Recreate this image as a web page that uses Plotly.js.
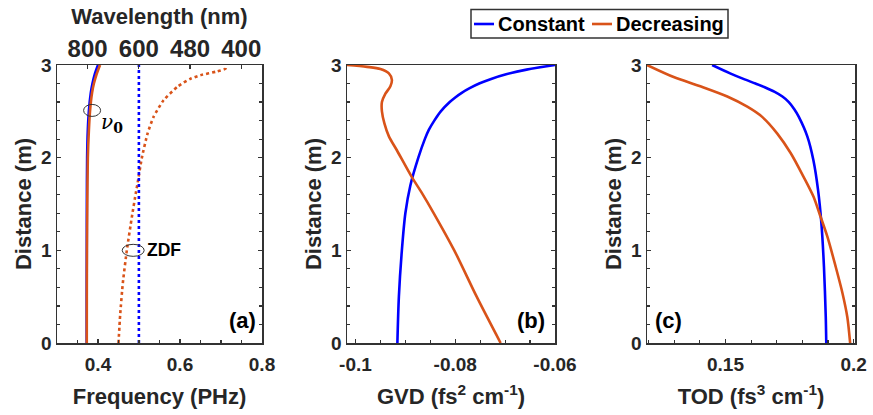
<!DOCTYPE html>
<html>
<head>
<meta charset="utf-8">
<script src="https://cdn.plot.ly/plotly-3.0.1.min.js"></script>
<style>
  html, body { margin: 0; padding: 0; background: #ffffff; }
  #chart { width: 873px; height: 415px; }
</style>
</head>
<body>
<div id="chart"></div>
<script>
// ---- Panel (a): centre frequency and zero-dispersion frequency vs distance ----
const distFreq      = [0, 0.5, 1.0, 1.5, 2.0, 2.3, 2.5, 2.7, 2.8, 2.9, 3.0];
const freqConstant  = [0.3724, 0.3724, 0.3726, 0.3728, 0.3735, 0.3752, 0.3777, 0.3825, 0.3865, 0.392, 0.400];
const freqDecrease  = [0.3726, 0.3727, 0.3730, 0.3738, 0.3752, 0.3778, 0.3805, 0.3855, 0.390, 0.3965, 0.405];
const distZdfDec    = [0, 0.3, 0.65, 1.0, 1.36, 1.62, 1.72, 2.0, 2.26, 2.44, 2.62, 2.77, 2.85, 2.89, 2.93, 2.96, 3.0];
const zdfDecrease   = [0.450, 0.454, 0.4606, 0.4703, 0.4826, 0.4923, 0.4964, 0.507, 0.5208, 0.5355, 0.560, 0.595, 0.625, 0.650, 0.690, 0.711, 0.713];
const distZdfConst  = [0, 3];
const zdfConstant   = [0.4997, 0.4997];
const wavelengthTicks = [800, 600, 480, 400];   // nm, shown on the top axis

// ---- Panel (b): group-velocity dispersion ----
const distGvdConst = [0, 0.5, 1.0, 1.4, 1.7, 2.0, 2.2, 2.3, 2.4, 2.5, 2.6, 2.65, 2.7, 2.75, 2.8, 2.85, 2.9, 2.95, 3.0];
const gvdConstant  = [-0.0916, -0.0913, -0.0907, -0.0900, -0.0890, -0.0874, -0.0861, -0.0853, -0.0842, -0.0829, -0.0811, -0.0800, -0.0787, -0.0771, -0.0752, -0.0728, -0.0698, -0.0657, -0.0600];
const distGvdDec   = [0, 0.5, 1.0, 1.4, 1.62, 1.79, 2.08, 2.23, 2.37, 2.5, 2.6, 2.69, 2.77, 2.84, 2.91, 2.957, 2.98, 3.0];
const gvdDecrease  = [-0.0709, -0.0757, -0.0802, -0.0843, -0.0867, -0.0887, -0.0917, -0.0933, -0.0942, -0.0947, -0.0947, -0.0940, -0.0930, -0.0927, -0.0933, -0.0950, -0.0977, -0.1017];

// ---- Panel (c): third-order dispersion ----
const distTodConst = [0, 0.28, 0.82, 1.29, 1.65, 1.97, 2.23, 2.44, 2.52, 2.6, 2.66, 2.71, 2.76, 2.8, 2.85, 2.91, 3.0];
const todConstant  = [0.1893, 0.1891, 0.1884, 0.1874, 0.1861, 0.1843, 0.1819, 0.1786, 0.1769, 0.1747, 0.1722, 0.1692, 0.1653, 0.1617, 0.1570, 0.1518, 0.1448];
const distTodDec   = [0, 0.28, 0.54, 0.82, 1.15, 1.40, 1.58, 1.79, 2.05, 2.26, 2.44, 2.55, 2.66, 2.77, 2.87, 3.0];
const todDecrease  = [0.1986, 0.1975, 0.1956, 0.1930, 0.1897, 0.1866, 0.1843, 0.1805, 0.1754, 0.1702, 0.1643, 0.1585, 0.1507, 0.1402, 0.1298, 0.1194];

const distanceTicks = [0, 1, 2, 3];
const freqTicks = [0.4, 0.6, 0.8];
const freqTickText = ['0.4', '0.6', '0.8'];
const gvdTicks = [-0.1, -0.08, -0.06];
const gvdTickText = ['-0.1', '-0.08', '-0.06'];
const todTicks = [0.15, 0.2];
const todTickText = ['0.15', '0.2'];
const seriesNames = ['Constant', 'Decreasing'];

const BLUE = '#0000ff';
const ORANGE = '#d95319';
const AXIS = '#333333';
const TEXT = '#262626';
const FONT = 'Liberation Sans, Arial, sans-serif';
const C_NM_PHZ = 299.792458;   // speed of light in nm·PHz

const W = 873, H = 415;
const px = v => v / W;
const py = v => 1 - v / H;
const yDomain = [py(343), py(65)];

function line(x, y, xa, ya, color, extra) {
  return Object.assign({
    type: 'scatter', mode: 'lines', x: x, y: y, xaxis: xa, yaxis: ya,
    line: { color: color, width: 2.6, shape: 'spline', smoothing: 0.8 },
    showlegend: false, hoverinfo: 'skip'
  }, extra || {});
}

const traces = [
  line(freqConstant, distFreq, 'x', 'y', BLUE, { name: seriesNames[0] }),
  line(freqDecrease, distFreq, 'x', 'y', ORANGE, { name: seriesNames[1] }),
  line(zdfDecrease, distZdfDec, 'x', 'y', ORANGE, { line: { color: ORANGE, width: 2.6, dash: 'dot', shape: 'spline', smoothing: 0.5 } }),
  line(zdfConstant, distZdfConst, 'x', 'y', BLUE, { line: { color: BLUE, width: 2.6, dash: 'dot' } }),
  // carries the wavelength axis on top of panel (a)
  { type: 'scatter', mode: 'lines', x: [0.3, 0.8], y: [-1, -1], xaxis: 'x4', yaxis: 'y',
    line: { color: 'rgba(0,0,0,0)', width: 0 }, showlegend: false, hoverinfo: 'skip' },
  line(gvdConstant, distGvdConst, 'x2', 'y2', BLUE, { name: seriesNames[0] }),
  line(gvdDecrease, distGvdDec, 'x2', 'y2', ORANGE, { name: seriesNames[1] }),
  line(todConstant, distTodConst, 'x3', 'y3', BLUE, { name: seriesNames[0] }),
  line(todDecrease, distTodDec, 'x3', 'y3', ORANGE, { name: seriesNames[1] })
];

const tickFont = () => ({ family: FONT, size: 19, color: TEXT, weight: 'bold' });
const titleFont = () => ({ family: FONT, size: 22, color: TEXT, weight: 'bold' });

function xAxis(domain, range, tickvals, ticktext, minorDtick, minorTick0, title, anchor) {
  return {
    domain: domain, range: range, anchor: anchor,
    tickmode: 'array', tickvals: tickvals, ticktext: ticktext,
    ticks: 'inside', ticklen: 4, tickwidth: 1.2, tickcolor: AXIS,
    minor: { ticks: 'inside', dtick: minorDtick, tick0: minorTick0, ticklen: 3, tickwidth: 1.2, tickcolor: AXIS },
    showline: true, linecolor: AXIS, linewidth: 1.5, mirror: true,
    showgrid: false, zeroline: false, automargin: false,
    tickfont: tickFont(), ticklabelstandoff: 4,
    title: { text: title, font: titleFont(), standoff: 14 }
  };
}
function yAxis(domain, anchor) {
  return {
    domain: domain, range: [0, 3], anchor: anchor,
    tickmode: 'array', tickvals: distanceTicks, ticktext: distanceTicks.map(String),
    ticks: 'inside', ticklen: 4, tickwidth: 1.2, tickcolor: AXIS,
    minor: { ticks: 'inside', dtick: 0.2, tick0: 0, ticklen: 3, tickwidth: 1.2, tickcolor: AXIS },
    showline: true, linecolor: AXIS, linewidth: 1.5, mirror: 'ticks',
    showgrid: false, zeroline: false, automargin: false,
    tickfont: tickFont(),
    title: { text: 'Distance (m)', font: titleFont(), standoff: 3 }
  };
}

// legend box drawn in pixel positions of the page
const legendShapes = [
  { type: 'rect', xref: 'paper', yref: 'paper', x0: px(471), x1: px(728), y0: py(38), y1: py(9.5),
    line: { color: AXIS, width: 1.5 }, fillcolor: '#ffffff' },
  { type: 'line', xref: 'paper', yref: 'paper', x0: px(474), x1: px(494), y0: py(24), y1: py(24),
    line: { color: BLUE, width: 2.6 } },
  { type: 'line', xref: 'paper', yref: 'paper', x0: px(592), x1: px(612), y0: py(24), y1: py(24),
    line: { color: ORANGE, width: 2.6 } }
];
const legendLabels = [
  { xref: 'paper', yref: 'paper', x: px(496), y: py(24), xanchor: 'left', yanchor: 'middle', showarrow: false,
    text: seriesNames[0], font: { family: FONT, size: 20, color: '#000000', weight: 'bold' } },
  { xref: 'paper', yref: 'paper', x: px(614), y: py(24), xanchor: 'left', yanchor: 'middle', showarrow: false,
    text: seriesNames[1], font: { family: FONT, size: 20, color: '#000000', weight: 'bold' } }
];

const layout = {
  width: W, height: H,
  margin: { l: 0, r: 0, t: 0, b: 0 },
  paper_bgcolor: '#ffffff', plot_bgcolor: '#ffffff',
  font: { family: FONT, color: TEXT },
  showlegend: false,
  xaxis: xAxis([px(57), px(262)], [0.3, 0.8], freqTicks, freqTickText, 0.05, 0.3, 'Frequency (PHz)', 'y'),
  xaxis2: xAxis([px(347), px(555)], [-0.1017, -0.06], gvdTicks, gvdTickText, 0.005, -0.1, 'GVD (fs<sup>2</sup> cm<sup>-1</sup>)', 'y2'),
  xaxis3: xAxis([px(647), px(855)], [0.1194, 0.2005], todTicks, todTickText, 0.01, 0.12, 'TOD (fs<sup>3</sup> cm<sup>-1</sup>)', 'y3'),
  xaxis4: {
    overlaying: 'x', side: 'top', anchor: 'y', range: [0.3, 0.8],
    tickmode: 'array',
    tickvals: wavelengthTicks.map(l => C_NM_PHZ / l),
    ticktext: wavelengthTicks.map(String),
    tickangle: 0,
    ticks: 'inside', ticklen: 4, tickwidth: 1.2, tickcolor: AXIS,
    showline: false, showgrid: false, zeroline: false, automargin: false,
    tickfont: { family: FONT, size: 24, color: TEXT, weight: 'bold' }, ticklabelstandoff: 2,
    title: { text: 'Wavelength (nm)', font: titleFont(), standoff: 4 }
  },
  yaxis: yAxis(yDomain, 'x'),
  yaxis2: yAxis(yDomain, 'x2'),
  yaxis3: yAxis(yDomain, 'x3'),
  shapes: [
    { type: 'circle', xref: 'x', yref: 'y', xsizemode: 'pixel', ysizemode: 'pixel',
      xanchor: 0.3856, yanchor: 2.51, x0: -8.5, x1: 8.5, y0: -6, y1: 6,
      line: { color: '#333333', width: 1 } },
    { type: 'circle', xref: 'x', yref: 'y', xsizemode: 'pixel', ysizemode: 'pixel',
      xanchor: 0.4858, yanchor: 1.0, x0: -11, x1: 11, y0: -6, y1: 6,
      line: { color: '#333333', width: 1 } }
  ].concat(legendShapes),
  annotations: [
    { xref: 'x', yref: 'y', x: 0.4, y: 2.42, xanchor: 'left', yanchor: 'middle', showarrow: false, yshift: -4, xshift: 1,
      text: '<i>ν</i><sub><b>0</b></sub>', font: { family: 'DejaVu Serif, serif', size: 20, color: '#000000' } },
    { xref: 'x', yref: 'y', x: 0.5, y: 1.0, xanchor: 'left', yanchor: 'middle', showarrow: false, xshift: 6,
      text: 'ZDF', font: { family: FONT, size: 17.5, color: '#000000', weight: 'bold' } },
    { xref: 'x domain', yref: 'y domain', x: 0.98, y: 0.03, xanchor: 'right', yanchor: 'bottom', showarrow: false,
      text: '(a)', font: { family: FONT, size: 22, color: '#000000', weight: 'bold' } },
    { xref: 'x2 domain', yref: 'y2 domain', x: 0.96, y: 0.03, xanchor: 'right', yanchor: 'bottom', showarrow: false,
      text: '(b)', font: { family: FONT, size: 22, color: '#000000', weight: 'bold' } },
    { xref: 'x3 domain', yref: 'y3 domain', x: 0.03, y: 0.03, xanchor: 'left', yanchor: 'bottom', showarrow: false,
      text: '(c)', font: { family: FONT, size: 22, color: '#000000', weight: 'bold' } }
  ].concat(legendLabels)
};

Plotly.newPlot('chart', traces, layout, { displayModeBar: false, staticPlot: true });
</script>
</body>
</html>
